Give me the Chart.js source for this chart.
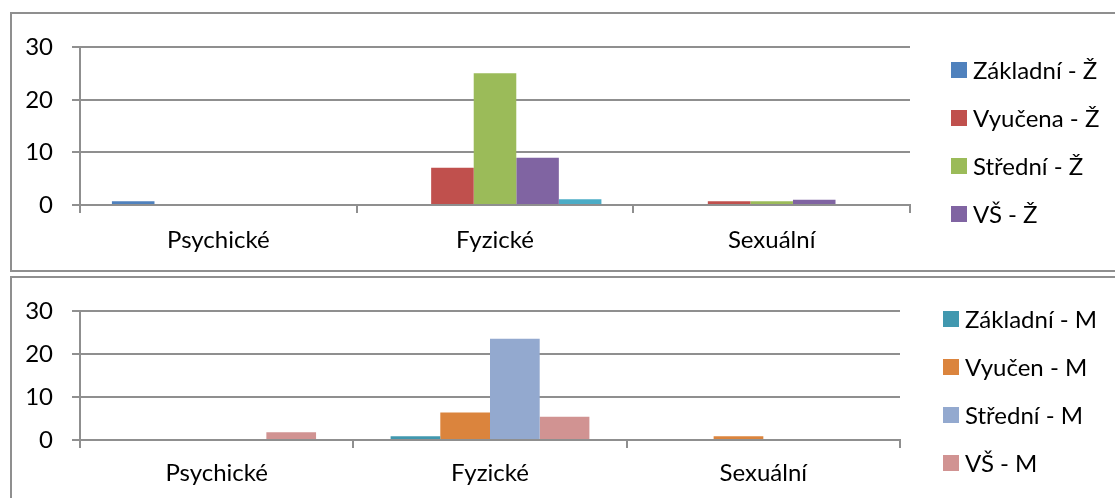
<!DOCTYPE html>
<html lang="cs">
<head>
<meta charset="utf-8">
<script src="https://cdn.jsdelivr.net/npm/chart.js@4.4.1/dist/chart.umd.min.js"></script>
<style>
  html, body { margin: 0; padding: 0; background: #fff; overflow: hidden; }
  body { width: 1115px; height: 498px; position: relative; }
  .box { position: absolute; left: 10px; width: 1120px; border: 2px solid #8f8f8f; background: #fff; }
  #boxZ { top: 12px; height: 256px; }
  #boxM { top: 276px; height: 240px; }
  canvas { display: block; }
</style>
</head>
<body>
<div class="box" id="boxZ"><canvas id="chartZ" width="1103" height="256"></canvas></div>
<div class="box" id="boxM"><canvas id="chartM" width="1103" height="220"></canvas></div>
<script>
// Druhy násilí (kategorie na ose x)
const categories = ['Psychické', 'Fyzické', 'Sexuální'];
const yTicks = [0, 10, 20, 30];

// Ženy podle vzdělání
const zakladniZ = [0.7, 0, 0];
const vyucenaZ  = [0, 7.1, 0.7];
const stredniZ  = [0, 25.1, 0.7];
const vsZ       = [0, 9.0, 1.0];
const ostatniZ  = [0, 1.1, 0];

// Muži podle vzdělání
const zakladniM = [0, 0.9, 0];
const vyucenM   = [0, 6.4, 0.9];
const stredniM  = [0, 23.6, 0];
const vsM       = [1.8, 5.4, 0];

const FONT = 'Lato, "Open Sans", sans-serif';
const FONT_SIZE = 24;
const GRID = '#8f8f8f';

// Legenda vpravo: čtverec 16×16 a popisek, položky po 48 px
const sideLegend = {
  id: 'sideLegend',
  afterDraw(chart, args, opts) {
    const ctx = chart.ctx;
    ctx.save();
    ctx.font = FONT_SIZE + 'px ' + FONT;
    ctx.textBaseline = 'middle';
    ctx.textAlign = 'left';
    let i = 0;
    chart.data.datasets.forEach(ds => {
      if (ds.inLegend === false) return;
      const y = opts.y + i * opts.step;
      ctx.fillStyle = ds.backgroundColor;
      ctx.fillRect(opts.x, y - 8, 16, 16);
      ctx.fillStyle = '#000';
      ctx.fillText(ds.label, opts.x + 22, y + 1);
      i++;
    });
    ctx.restore();
  }
};

function makeOptions(cfg) {
  return {
    responsive: false,
    animation: false,
    events: [],
    layout: { padding: { left: 0, right: cfg.padRight, top: cfg.padTop, bottom: 0 } },
    plugins: {
      legend: { display: false },
      tooltip: { enabled: false },
      sideLegend: cfg.legend
    },
    datasets: { bar: { categoryPercentage: cfg.catPct, barPercentage: 1, borderWidth: 0 } },
    scales: {
      x: {
        offset: true,
        grid: { offset: true, drawOnChartArea: false, drawTicks: true, tickLength: 8, color: GRID, lineWidth: 2 },
        border: { display: true, color: GRID, width: 2 },
        ticks: { color: '#000', font: { family: FONT, size: FONT_SIZE }, padding: cfg.xPad, maxRotation: 0 },
        afterFit: s => { s.height = cfg.xHeight; }
      },
      y: {
        min: 0, max: 30,
        afterBuildTicks: s => { s.ticks = yTicks.map(v => ({ value: v })); },
        grid: { drawTicks: true, tickLength: 8, color: GRID, lineWidth: 2 },
        border: { display: true, color: GRID, width: 2 },
        ticks: { color: '#000', font: { family: FONT, size: FONT_SIZE }, padding: 19 },
        afterFit: s => { s.width = 68; }
      }
    }
  };
}

function draw() {
  new Chart(document.getElementById('chartZ'), {
    type: 'bar',
    data: {
      labels: categories,
      datasets: [
        { label: 'Základní - Ž', data: zakladniZ, backgroundColor: '#4F81BD' },
        { label: 'Vyučena - Ž',  data: vyucenaZ,  backgroundColor: '#C0504D' },
        { label: 'Střední - Ž',  data: stredniZ,  backgroundColor: '#9BBB59' },
        { label: 'VŠ - Ž',       data: vsZ,       backgroundColor: '#8064A2' },
        { label: 'Ostatní - Ž',  data: ostatniZ,  backgroundColor: '#4BACC6', inLegend: false }
      ]
    },
    options: makeOptions({
      padRight: 205, padTop: 27.5, xHeight: 65, xPad: 13, catPct: 5 / 6.5,
      legend: { x: 939, y: 56, step: 48 }
    }),
    plugins: [sideLegend]
  });

  new Chart(document.getElementById('chartM'), {
    type: 'bar',
    data: {
      labels: categories,
      datasets: [
        { label: 'Základní - M', data: zakladniM, backgroundColor: '#4198AF' },
        { label: 'Vyučen - M',   data: vyucenM,   backgroundColor: '#DB843D' },
        { label: 'Střední - M',  data: stredniM,  backgroundColor: '#93A9CF' },
        { label: 'VŠ - M',       data: vsM,       backgroundColor: '#D19392' }
      ]
    },
    options: makeOptions({
      padRight: 215, padTop: 28.7, xHeight: 58, xPad: 11, catPct: 4 / 5.5,
      legend: { x: 931, y: 41, step: 48 }
    }),
    plugins: [sideLegend]
  });
}

if (document.fonts && document.fonts.load) {
  document.fonts.load(FONT_SIZE + 'px Lato').then(draw, draw);
} else {
  draw();
}
</script>
</body>
</html>
